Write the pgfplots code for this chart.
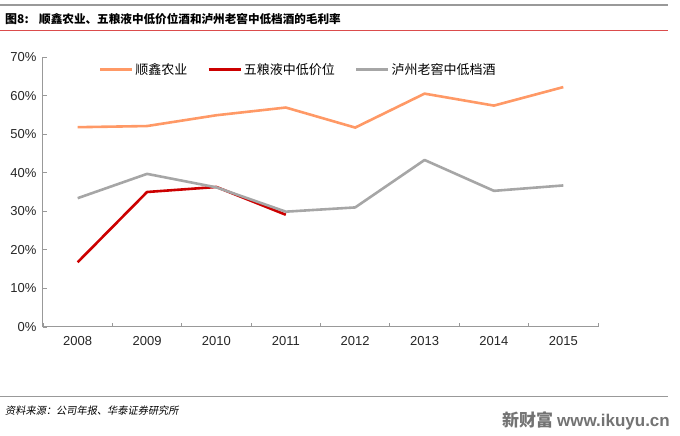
\documentclass[border=0pt]{standalone}
\usepackage{pgfplots}
\pgfplotsset{compat=1.18}
\usepackage{fontspec}
\setmainfont{Liberation Sans}
\newfontfamily\cjk{Noto Sans CJK SC}
\newfontfamily\cjkit[FakeSlant=0.18]{Noto Sans CJK SC}
\definecolor{cOrange}{HTML}{FF9966}
\definecolor{cRed}{HTML}{CC0000}
\definecolor{cGray}{HTML}{A6A6A6}
\definecolor{cAxis}{HTML}{999999}
\begin{document}
\begin{tikzpicture}[x=1pt,y=1pt]
\path[use as bounding box] (0,0) rectangle (680,436);
\draw[cAxis, line width=1.2pt] (0,431) -- (668,431);
\node[anchor=west, inner sep=0] at (5,417) {\fontsize{12}{14}\selectfont\cjk\bfseries 图8:};
\node[anchor=west, inner sep=0] at (39,417) {\fontsize{11.6}{14}\selectfont\cjk\bfseries 顺鑫农业、五粮液中低价位酒和泸州老窖中低档酒的毛利率};
\draw[cRed!70, line width=1pt] (0,405) -- (668,405);
\draw[cAxis, line width=1pt] (0,39) -- (668,39);
\node[anchor=west, inner sep=0] at (5,25) {\fontsize{10.2}{12}\selectfont\cjkit 资料来源：公司年报、华泰证券研究所};
\node[anchor=east, inner sep=0, text=black!55] at (670,15) {\fontsize{17}{19}\selectfont\cjk\bfseries 新财富 \rmfamily\bfseries www.ikuyu.cn};
\begin{axis}[
  at={(43pt,109pt)}, anchor=south west,
  scale only axis, width=555pt, height=270pt,
  xmin=-0.5, xmax=7.5, ymin=0, ymax=70,
  xtick={0,...,7},
  xticklabels={2008,2009,2010,2011,2012,2013,2014,2015},
  minor xtick={-0.5,0.5,...,7.5},
  ytick={0,10,...,70},
  yticklabel={\pgfmathprintnumber{\tick}\%},
  /pgf/number format/assume math mode=true,
  axis x line*=bottom, axis y line*=left,
  axis line style={cAxis, line width=1pt, -},
  tick align=inside,
  major tick length=4pt, minor tick length=4pt,
  x tick style={draw=none}, minor x tick style={draw=cAxis, line width=0.8pt},
  y tick style={cAxis, line width=0.8pt},
  tick label style={font=\fontsize{13}{15}\selectfont, text=black!85},
  xticklabel style={yshift=-6pt},
  yticklabel style={xshift=-3pt},
  legend style={at={(0.1,0.985)}, anchor=north west, draw=none, fill=none,
    font=\fontsize{13}{15}\selectfont\cjk, inner sep=0pt,
    nodes={inner sep=2pt},
    /tikz/every even column/.append style={column sep=18pt}},
  legend columns=3,
  legend image code/.code={\draw[#1] (0pt,0pt) -- (32pt,0pt);},
  every axis plot/.append style={line width=2.6pt, line join=round},
]
\addplot[cOrange] coordinates {(0,51.8) (1,52.1) (2,54.9) (3,56.9) (4,51.7) (5,60.5) (6,57.4) (7,62.2)};
\addplot[cRed] coordinates {(0,16.8) (1,35.0) (2,36.3) (3,29.1)};
\addplot[cGray] coordinates {(0,33.4) (1,39.7) (2,36.2) (3,29.9) (4,31.0) (5,43.3) (6,35.3) (7,36.7)};
\legend{顺鑫农业,五粮液中低价位,泸州老窖中低档酒}
\end{axis}
\end{tikzpicture}
\end{document}
